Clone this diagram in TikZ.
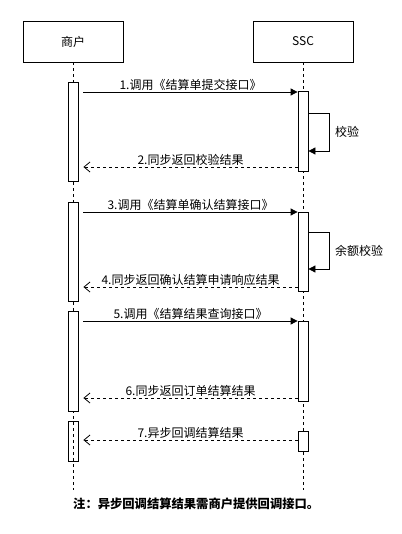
\documentclass[tikz,border=0pt]{standalone}
\usepackage{fontspec}
\newfontfamily\cjk{Noto Sans CJK SC}
\usetikzlibrary{arrows.meta,positioning}

\begin{document}
\begin{tikzpicture}[
  x=1pt, y=-1pt,
  font=\cjk\fontsize{12}{14}\selectfont,
  % actor heads and activation bars share one line width
  actor/.style={draw, line width=0.8pt, minimum width=100pt, minimum height=41pt, inner sep=0pt},
  actbar/.style={draw, fill=white, line width=0.8pt, minimum width=10pt, inner sep=0pt, anchor=north},
  life/.style={dashed, dash pattern=on 3pt off 3pt, line width=0.8pt},
  call/.style={-{Triangle[length=7pt,width=7pt]}, line width=0.8pt},
  reply/.style={-{Straight Barb[length=6pt,width=10pt]}, dashed, dash pattern=on 3pt off 3pt, line width=0.8pt},
  msg/.style={above=0pt, inner sep=1pt}
]
\useasboundingbox (0,0) rectangle (401,534);

% heads
\node[actor] (shop) at (73,41.5) {商户};
\node[actor] (ssc) at (303,41.5) {SSC};
\coordinate (shopend) at (73,490);
\coordinate (sscend) at (303,490);
\draw[life] (shop.south) -- (shopend);
\draw[life] (ssc.south) -- (sscend);

% activation bars
\node[actbar, minimum height=99pt] (m1) at (73,82) {};
\node[actbar, minimum height=99pt] (m2) at (73,202) {};
\node[actbar, minimum height=100pt] (m3) at (73,311) {};
\node[actbar, minimum height=40pt, fill=none] (m4) at (73,421) {};
\node[actbar, minimum height=80pt] (s1) at (303,91) {};
\node[actbar, minimum height=79pt] (s2) at (303,212) {};
\node[actbar, minimum height=80pt] (s3) at (303,321) {};
\node[actbar, minimum height=20pt] (s4) at (303,431) {};

% messages
\draw[call] ([xshift=5pt]m1.east |- 0,92) -- node[msg] {1.调用《结算单提交接口》} (s1.west |- 0,92);
\draw[reply] (s1.west |- 0,167) -- node[msg] {2.同步返回校验结果} ([xshift=5pt]m1.east |- 0,167);
\draw[call] ([xshift=5pt]m2.east |- 0,212) -- node[msg] {3.调用《结算单确认结算接口》} (s2.north west);
\draw[reply] (s2.west |- 0,287) -- node[msg] {4.同步返回确认结算申请响应结果} ([xshift=5pt]m2.east |- 0,287);
\draw[call] ([xshift=5pt]m3.east |- 0,321) -- node[msg] {5.调用《结算结果查询接口》} (s3.north west);
\draw[reply] (s3.west |- 0,398) -- node[msg] {6.同步返回订单结算结果} ([xshift=5pt]m3.east |- 0,398);
\draw[reply] (s4.west |- 0,440) -- node[msg] {7.异步回调结算结果} ([xshift=5pt]m4.east |- 0,440);

% self checks
\draw[call] (s1.east |- 0,113) -- ++(21,0) |- node[pos=0.25, right=2pt] {校验} (s1.east |- 0,151);
\draw[call] (s2.east |- 0,232) -- ++(21,0) |- node[pos=0.25, right=2pt] {余额校验} (s2.east |- 0,269);

% note
\node[font=\cjk\bfseries\fontsize{12.3}{14}\selectfont, anchor=west, inner sep=1pt] (note) at (72,504) {注：异步回调结算结果需商户提供回调接口。};
\end{tikzpicture}
\end{document}
